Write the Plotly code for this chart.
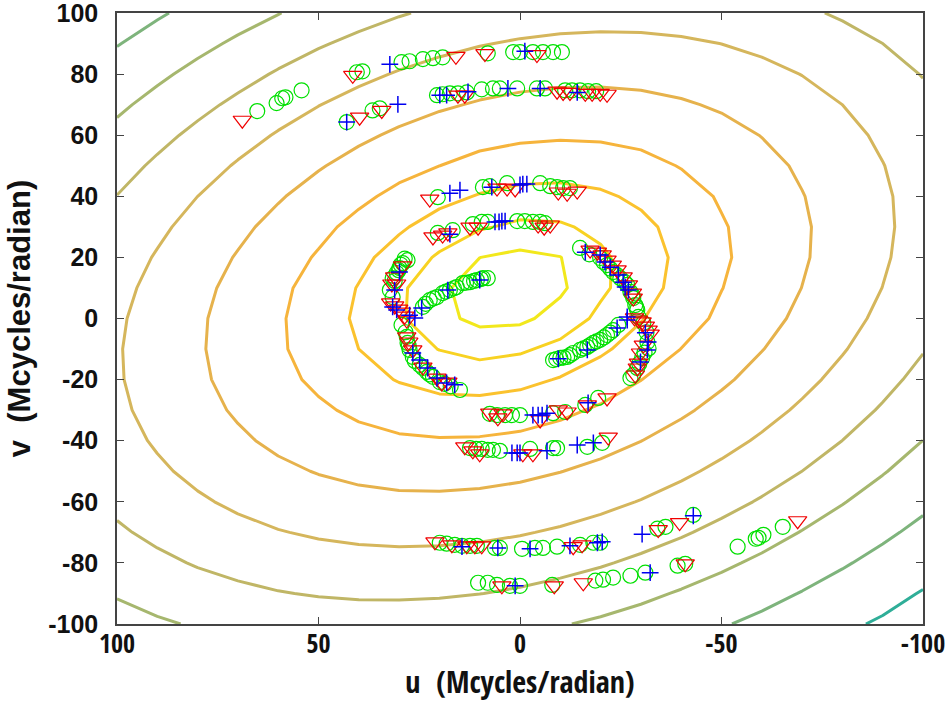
import numpy as np
import plotly.graph_objects as go

# ---- uv samples (Mcycles/radian), one list pair per marker kind ----
u_circle = [40.5, 39.1, 29.4, 27.4, 24.1, 21.6, 19.2, 8.0, 1.7, 0.0, -3.2, -5.7, -8.2, -10.4,
            10.4, 8.0, 5.7, 2.5, 0.0, -8.0, -18.7, -20.6, -23.1, -27.4, -31.1, -39.1, -41.0,
            43.0, 36.6, 34.8, 20.6, 19.2, 17.4, 15.4, 13.2, 9.5, 6.7, 5.0, 0.7, -4.2, -6.2,
            -11.2, -12.9, -14.9, -16.9, -18.9,
            19.9, 18.2, 16.2, 14.4, 12.4, 10.7, 6.2, 5.0, -0.5, -3.7, -5.7, -9.2, -14.9,
            -18.2, -19.9, -34.1, -36.1, -43.0,
            65.2, 60.4, 59.0, 58.2, 54.2,
            -54.0, -58.5, -59.2, -60.4, -65.2,
            20.4, 9.2, 7.5, 3.2, -5.0, -7.5, -9.2, -10.7, -12.4,
            12.4, 10.9, 9.5, 8.0, 6.7, 5.0, -2.5, -8.2, -9.2, -16.7, -20.4,
            20.4, 16.7, 11.7, 9.5, 8.0, 0.7, -1.2, -3.2, -5.0, -6.2,
            7.5, 5.7, 3.7, 2.0, 0.0, -8.2, -11.2, -16.2, -19.4,
            27.9, 28.6, 29.1, 29.6, 29.9, 30.1, 30.6, 31.1, 31.6, 32.3, 31.6, 29.4, 28.4,
            28.1, 27.9, 27.6, 27.4, 26.6, 26.1, 24.9, 24.1, 23.1, 22.4, 21.6, 19.9, 18.7,
            17.2, 14.9,
            24.1, 23.4, 22.4, 21.4, 20.6, 19.2, 18.4, 17.4, 16.4, 15.7, 14.2, 13.4, 12.4,
            11.4, 10.7, 9.7, 9.2, 8.0,
            -14.9, -17.2, -19.9, -20.7, -21.6, -22.4, -23.1, -24.1, -24.9, -25.9, -26.6,
            -27.4, -27.9, -28.1, -28.6, -28.9, -29.1, -29.4, -30.6, -31.4, -31.6, -31.9,
            -30.9, -30.3, -29.6, -29.1, -28.1, -27.4,
            -8.2, -9.0, -10.0, -10.8, -11.7, -12.4, -13.2, -14.9, -15.8, -16.7, -17.4,
            -18.2, -19.0, -19.9, -20.8, -21.6, -22.4, -23.1, -24.4]
v_circle = [80.6, 80.9, 83.9, 84.2, 84.9, 85.2, 85.5, 86.8, 87.2, 87.2, 87.2, 87.2, 87.2, 87.2,
            -86.5, -86.5, -87.2, -87.5, -87.5, -87.2, -85.8, -85.5, -84.8, -84.2, -83.2,
            -80.9, -80.3,
            64.3, 68.1, 68.8, 73.1, 73.4, 73.7, 73.7, 74.0, 75.0, 75.3, 75.3, 75.3, 75.3,
            75.3, 74.7, 74.7, 74.7, 74.4, 74.4,
            -73.4, -73.7, -74.1, -74.4, -74.4, -74.4, -75.1, -75.1, -75.4, -75.1, -75.1,
            -74.7, -74.1, -73.4, -73.4, -68.8, -68.2, -64.3,
            67.9, 70.5, 72.1, 72.4, 74.7,
            -74.7, -72.1, -71.8, -70.8, -68.2,
            39.7, 43.0, 43.3, 44.3, 44.3, 43.3, 43.0, 42.7, 42.7,
            -42.4, -42.7, -42.7, -43.0, -43.0, -43.3, -42.7, -42.4, -42.4, -42.0, -40.7,
            28.0, 28.9, 30.9, 31.6, 31.6, 31.9, 31.9, 31.6, 31.6, 31.2,
            -31.2, -31.6, -31.6, -31.6, -31.6, -31.0, -30.6, -28.3, -26.0,
            19.1, 19.6, 18.1, 17.6, 16.5, 15.8, 14.9, 12.3, 13.2, 9.3, 7.0, -2.1, -4.5,
            -6.0, -8.0, -9.0, -10.3, -12.6, -13.9, -15.2, -16.2, -17.5, -18.3, -19.1, -20.8,
            -21.4, -22.2, -23.4,
            3.8, 4.8, 6.0, 6.6, 7.0, 8.3, 8.8, 9.3, 9.9, 10.3, 11.6, 11.7, 11.9, 12.3, 12.6,
            12.9, 13.2, 13.2,
            23.1, 21.0, 19.8, 18.5, 17.5, 16.3, 15.2, 14.2, 13.2, 12.0, 11.0, 8.7, 7.7, 6.7,
            4.4, 3.6, 2.8, 0.5, -1.5, -4.5, -7.7, -9.8, -11.2, -12.9, -14.8, -16.2, -18.5,
            -19.5,
            -13.6, -13.3, -12.9, -12.8, -12.6, -12.0, -11.3, -10.3, -9.8, -9.3, -8.7, -8.0,
            -7.5, -7.0, -6.2, -5.4, -4.6, -3.8, -2.1]

u_triangle = [41.5, 15.9, 8.7, -4.2,
              4.5, -8.5, -15.7, -41.0,
              39.8, 34.3, 15.4, 13.7, -9.2, -10.7, -12.4, -16.2, -17.9, -19.9, -21.6,
              21.1, 16.9, 13.2, 11.2, 9.5, -13.2, -15.4, -34.3, -39.6,
              68.9, -68.9,
              22.4, 5.7, 3.2, 1.2, -9.5, -11.7, -14.2,
              13.7, 11.7, 10.0, -0.7, -3.2, -21.9,
              21.6, 19.2, 17.9, 12.4, 10.4, -4.5, -6.0, -7.5,
              7.5, 5.5, 4.2, -5.0, -9.5, -11.7, -16.7, -21.6,
              29.1, 31.1, 31.8, 30.6, 32.1, 31.1, 30.1, 29.4, 28.6, 28.1, 28.1, 27.6, 26.6,
              24.1, 20.6, 19.4, 17.9,
              -17.4, -19.2, -20.4, -21.6, -22.9, -24.1, -25.6, -26.9, -27.9, -28.1, -28.4,
              -29.4, -30.3, -31.1, -31.8, -32.3, -30.6, -29.9, -29.4, -29.1, -28.6]
v_triangle = [79.6, 85.8, 86.7, 86.4,
              -87.5, -87.5, -86.5, -80.3,
              65.9, 68.1, 73.1, 73.1, 74.4, 74.0, 74.0, 73.7, 73.7, 73.7, 73.4,
              -73.1, -74.1, -74.4, -74.4, -74.4, -74.7, -74.1, -69.1, -66.8,
              64.9, -66.2,
              39.1, 42.7, 42.7, 42.4, 41.4, 41.0, 41.7,
              -42.0, -43.3, -44.3, -44.3, -44.3, -38.8,
              26.7, 27.3, 28.0, 29.9, 29.9, 30.6, 29.9, 30.6,
              -31.0, -32.5, -31.2, -33.2, -29.9, -30.6, -28.3, -26.0,
              17.2, 13.6, 11.3, 11.3, 5.1, 4.1, 3.1, 2.1, 0.8, -0.5, -6.0, -7.7, -10.3,
              -15.9, -19.5, -21.1, -20.8,
              22.4, 21.7, 20.8, 19.1, 17.5, 15.9, 13.6, 11.0, 8.3, 6.7, 0.2,
              -0.5, -1.1, -2.5, -3.8, -5.1, -8.7, -11.3, -14.6, -16.2, -18.5]

u_cross = [32.3, -1.2,
           1.2, -32.3,
           43.0, 30.3, 19.9, 18.2, 12.9, 3.0, -5.0, -14.2,
           14.4, 5.5, -2.5, -12.4, -19.2, -20.4, -30.3, -43.0,
           17.4, 14.9, 7.0, 0.0, -0.7, -1.7,
           2.0, 0.7, 0.0, -6.7, -14.2, -18.2,
           17.4, 6.2, 5.2, 4.5, 3.7,
           -3.2, -4.5, -5.5, -6.7, -16.9,
           29.9, 31.1, 31.6, 30.6, 27.4, 26.1, 26.6, 24.9, 22.9, 20.6, 18.2, 16.2,
           24.4, 17.9, 10.0,
           -16.2, -19.9, -21.1, -22.4, -24.4, -25.6, -26.1, -26.9, -26.6, -31.1, -31.8,
           -31.6, -29.9, -9.5, -16.7, -24.1, -26.6]
v_cross = [83.2, 87.5,
           -87.5, -83.2,
           64.3, 70.1, 73.1, 73.1, 74.2, 75.3, 75.3, 74.0,
           -74.7, -75.1, -75.4, -74.4, -73.4, -73.1, -70.6, -64.6,
           41.0, 42.0, 43.0, 43.7, 44.0, 44.0,
           -44.0, -44.0, -44.0, -43.3, -41.4, -40.7,
           27.6, 31.6, 31.6, 31.9, 31.9,
           -31.6, -31.6, -31.6, -31.0, -27.6,
           15.2, 9.3, 3.8, 2.8, 1.1, 0.2, -11.3, -13.6, -16.2, -19.5, -21.1, -21.7,
           3.4, 9.3, 12.6,
           21.7, 20.8, 18.5, 16.8, 14.2, 11.9, 10.3, 9.3, 0.5, -4.7, -7.7,
           -10.3, -14.2, -13.2, -10.3, -3.1, -0.5]

# ---- contour model: tilted elliptical distance from the model centre ----
model_centre = (2.8, 9.6)          # (u, v)
model_shape = (1.0, 0.3, 1.29)     # quadratic-form coefficients A, B, C
level_radii = [15.3, 24.5, 38.0, 53.0, 72.5, 92.5, 111.7, 129.5, 149.0, 169.7]
level_colors = ["#f2e81c", "#f8d222", "#fbc22e", "#f6b43c", "#e6b24c",
                "#d5b65c", "#c0b666", "#a6b76e", "#7eb47c", "#2fae98"]
x_ticks = [100, 50, 0, -50, -100]
y_ticks = [-100, -80, -60, -40, -20, 0, 20, 40, 60, 80, 100]

grid = np.arange(-100, 101, 10, dtype=float)
gu, gv = np.meshgrid(grid, grid)
du, dv = gu - model_centre[0], gv - model_centre[1]
a, b, c = model_shape
r = np.sqrt(a * du**2 + 2 * b * du * dv + c * dv**2)
n = len(level_radii)
z = np.interp(r, [0.0] + level_radii + [level_radii[-1] + 40.0],
              list(range(0, n + 1)) + [n + 1])

colorscale = [[i / (n - 1), col] for i, col in enumerate(level_colors)]

fig = go.Figure()
fig.add_trace(go.Contour(
    x=grid, y=grid, z=z,
    contours=dict(start=1, end=n, size=1, coloring="lines", showlabels=False),
    line=dict(width=3, smoothing=0),
    colorscale=colorscale, zmin=1, zmax=n, showscale=False,
    hoverinfo="skip",
))

fig.add_trace(go.Scatter(
    x=u_circle, y=v_circle, mode="markers",
    marker=dict(symbol="circle-open", size=15, color="#00e000", line=dict(width=1.2)),
))
fig.add_trace(go.Scatter(
    x=u_triangle, y=v_triangle, mode="markers",
    marker=dict(symbol="triangle-down-open", size=16, color="#f00000", line=dict(width=1.2)),
))
fig.add_trace(go.Scatter(
    x=u_cross, y=v_cross, mode="markers",
    marker=dict(symbol="cross-thin-open", size=12, color="#0000f0", line=dict(width=1.5)),
))

narrow = "Liberation Sans Narrow, Noto Sans Condensed, Open Sans Condensed, Liberation Sans, Arial"
axis_common = dict(
    showgrid=False, zeroline=False, showline=True, linecolor="#444444", linewidth=1.5,
    mirror="ticks", ticks="inside", ticklen=7, tickwidth=1, tickcolor="#444444",
    automargin=False, ticklabeloverflow="allow",
)

fig.update_layout(
    width=947, height=702,
    margin=dict(l=117, r=24, t=13, b=78),
    paper_bgcolor="white", plot_bgcolor="white",
    showlegend=False,
    xaxis=dict(
        range=[100, -100], tickvals=x_ticks, ticktext=[str(t) for t in x_ticks],
        tickfont=dict(family=narrow, size=26, color="#111111", weight="bold"),
        ticklabelstandoff=-4,
        title=dict(text="u\u00a0\u00a0(Mcycles/radian)", standoff=8,
                   font=dict(family=narrow, size=30, color="#111111", weight="bold")),
        **axis_common,
    ),
    yaxis=dict(
        range=[-100, 100], tickvals=y_ticks, ticktext=[str(t) for t in y_ticks],
        tickfont=dict(family="Liberation Sans, Arial", size=25, color="#111111", weight="bold"),
        ticklabelstandoff=12,
        title=dict(text="v\u00a0\u00a0(Mcycles/radian)", standoff=8,
                   font=dict(family="Liberation Sans, Arial", size=31, color="#111111",
                             weight="bold")),
        **axis_common,
    ),
)

fig.write_html("out.html")
